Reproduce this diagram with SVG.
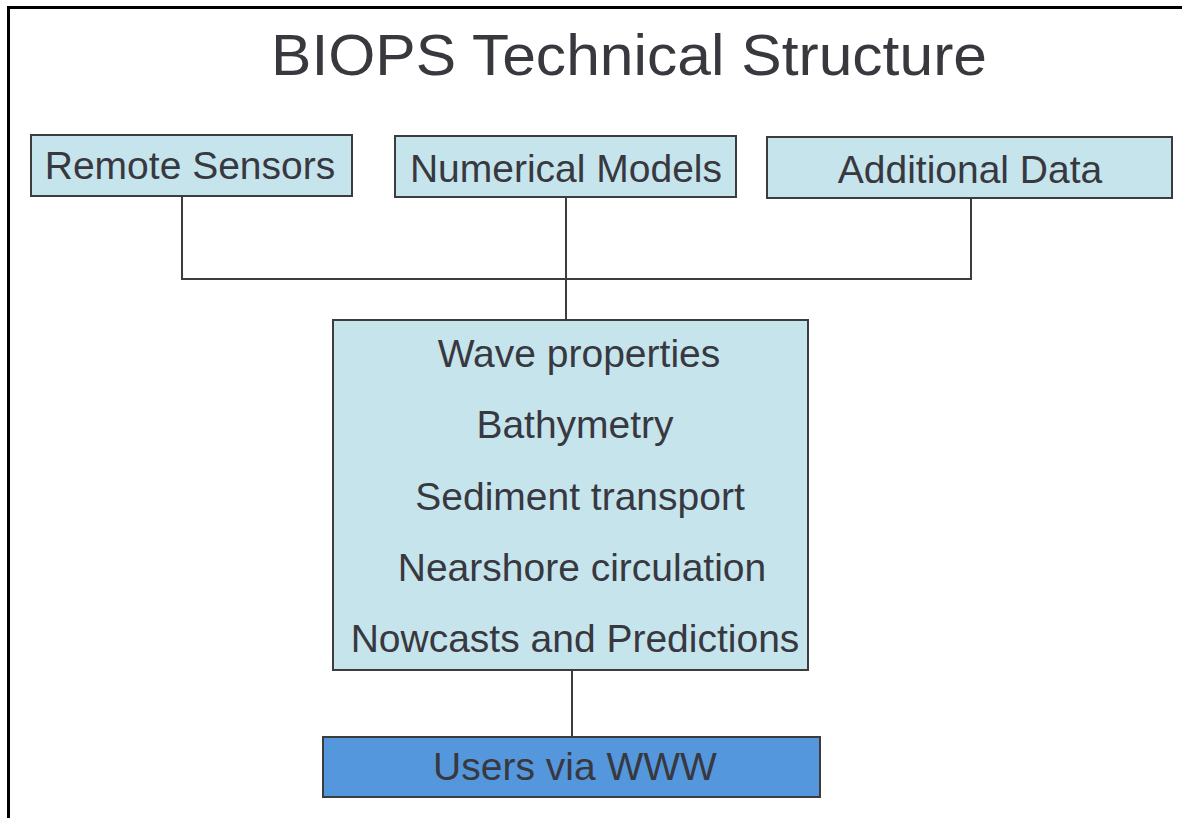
<svg xmlns="http://www.w3.org/2000/svg" width="1182" height="818" viewBox="0 0 1182 818">
<style>
.box{fill:#c6e4ec;stroke:#3c3c3c;stroke-width:2}
.dark{fill:#5597dc;stroke:#3c3c3c;stroke-width:2}
.t{font-family:"Liberation Sans",Arial,sans-serif;font-size:39px;fill:#383840;text-anchor:middle}
.title{font-family:"Liberation Sans",Arial,sans-serif;font-size:58px;fill:#38383e;text-anchor:middle}
.conn line{stroke:#3c3c3c;stroke-width:2}
</style>
<rect width="1182" height="818" fill="#ffffff"/>
<path d="M8.5 818 V7.5 H1182" fill="none" stroke="#000" stroke-width="3"/>
<text class="title" x="629" y="75" textLength="716" lengthAdjust="spacingAndGlyphs">BIOPS Technical Structure</text>
<g id="connectors" class="conn">
<line x1="182" y1="196" x2="182" y2="279"/>
<line x1="181" y1="279" x2="972" y2="279"/>
<line x1="566" y1="197" x2="566" y2="320"/>
<line x1="971" y1="198" x2="971" y2="280"/>
<line x1="572" y1="670" x2="572" y2="737"/>
</g>
<g id="remote-sensors">
<rect class="box" x="31" y="135" width="321" height="61"/>
<text class="t" x="190" y="179">Remote Sensors</text>
</g>
<g id="numerical-models">
<rect class="box" x="395" y="136" width="341" height="61"/>
<text class="t" x="566" y="182">Numerical Models</text>
</g>
<g id="additional-data">
<rect class="box" x="767" y="137" width="405" height="61"/>
<text class="t" x="970" y="183">Additional Data</text>
</g>
<g id="processing">
<rect class="box" x="333" y="320" width="475" height="350"/>
<text class="t" x="579" y="367">Wave properties</text>
<text class="t" x="575" y="438">Bathymetry</text>
<text class="t" x="580" y="510">Sediment transport</text>
<text class="t" x="582" y="581">Nearshore circulation</text>
<text class="t" x="575" y="652">Nowcasts and Predictions</text>
</g>
<g id="users">
<rect class="dark" x="323" y="737" width="497" height="60"/>
<text class="t" x="575" y="780">Users via WWW</text>
</g>
</svg>
